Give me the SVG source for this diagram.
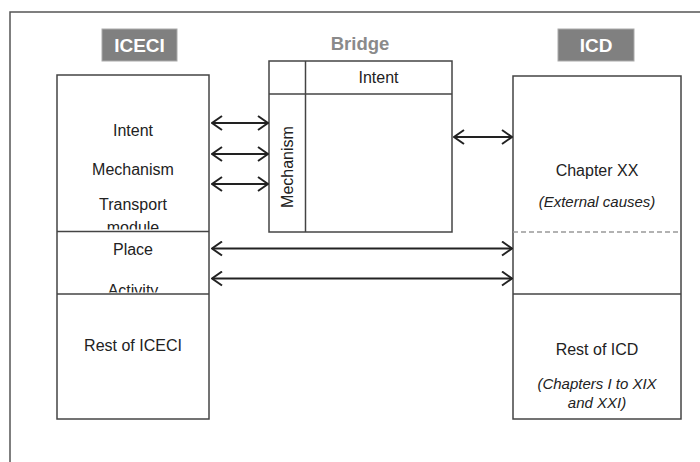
<svg xmlns="http://www.w3.org/2000/svg" width="700" height="462" viewBox="0 0 700 462">
<style>
.box{fill:#fff;stroke:#444;stroke-width:1.5}
.div{stroke:#444;stroke-width:1.5;fill:none}
.t{font-family:"Liberation Sans",Arial,sans-serif;font-size:16px;fill:#222;text-anchor:middle}
.it{font-style:italic;font-size:15px}
.lbl{fill:#808080;stroke:#aaa;stroke-width:1}
.lt{font-family:"Liberation Sans",Arial,sans-serif;font-size:19px;font-weight:bold;fill:#fff;text-anchor:middle}
.conn{stroke:#222;stroke-width:2;fill:none;marker-start:url(#ah);marker-end:url(#ah)}
</style>
<defs>
<marker id="ah" viewBox="0 0 12 16" refX="11" refY="8" markerWidth="12" markerHeight="16" markerUnits="userSpaceOnUse" orient="auto-start-reverse">
<path d="M1,1 L11,8 L1,15" fill="none" stroke="#222" stroke-width="2"/>
</marker>
<clipPath id="c1"><rect x="57" y="75" width="152" height="154.5"/></clipPath>
<clipPath id="c2"><rect x="57" y="232" width="152" height="60.5"/></clipPath>
</defs>
<rect width="700" height="462" fill="#fff"/>
<path d="M10,462 V12 H700" fill="none" stroke="#555" stroke-width="1.5"/>

<g id="iceci-label">
<rect class="lbl" x="102" y="29" width="75" height="32"/>
<text class="lt" x="139.5" y="52">ICECI</text>
</g>

<g id="bridge">
<text x="360" y="50" font-family="Liberation Sans, Arial, sans-serif" font-size="18.5" font-weight="bold" fill="#8a8a8a" text-anchor="middle">Bridge</text>
<rect class="box" x="269" y="61" width="183" height="171"/>
<line class="div" x1="305.5" y1="61" x2="305.5" y2="232"/>
<line class="div" x1="269" y1="94" x2="452" y2="94"/>
<text class="t" x="378.5" y="83">Intent</text>
<text class="t" transform="translate(293,167) rotate(-90)">Mechanism</text>
</g>

<g id="icd-label">
<rect class="lbl" x="558" y="29" width="76" height="32"/>
<text class="lt" x="596" y="52">ICD</text>
</g>

<g id="iceci">
<rect class="box" x="57" y="75" width="152" height="344"/>
<text class="t" x="133" y="136">Intent</text>
<text class="t" x="133" y="175">Mechanism</text>
<text class="t" x="133" y="210">Transport</text>
<text class="t" x="133" y="233" clip-path="url(#c1)">module</text>
<line class="div" x1="57" y1="231.5" x2="209" y2="231.5"/>
<text class="t" x="133" y="255">Place</text>
<text class="t" x="133" y="295.5" clip-path="url(#c2)">Activity</text>
<line class="div" x1="57" y1="294" x2="209" y2="294"/>
<text class="t" x="133" y="351">Rest of ICECI</text>
</g>

<g id="icd">
<rect class="box" x="513" y="76" width="168" height="343"/>
<text class="t" x="597" y="176">Chapter XX</text>
<text class="t it" x="597" y="207">(External causes)</text>
<line x1="513" y1="232" x2="681" y2="232" stroke="#999" stroke-width="1.5" stroke-dasharray="5,3"/>
<line class="div" x1="513" y1="294" x2="681" y2="294"/>
<text class="t" x="597" y="355">Rest of ICD</text>
<text class="t it" x="597" y="389">(Chapters I to XIX</text>
<text class="t it" x="597" y="408">and XXI)</text>
</g>

<g id="connectors">
<line class="conn" x1="212" y1="123" x2="268" y2="123"/>
<line class="conn" x1="212" y1="154" x2="268" y2="154"/>
<line class="conn" x1="212" y1="184" x2="268" y2="184"/>
<line class="conn" x1="454" y1="137" x2="512" y2="137"/>
<line class="conn" x1="212" y1="248.5" x2="512" y2="248.5"/>
<line class="conn" x1="212" y1="278.5" x2="512" y2="278.5"/>
</g>
</svg>
